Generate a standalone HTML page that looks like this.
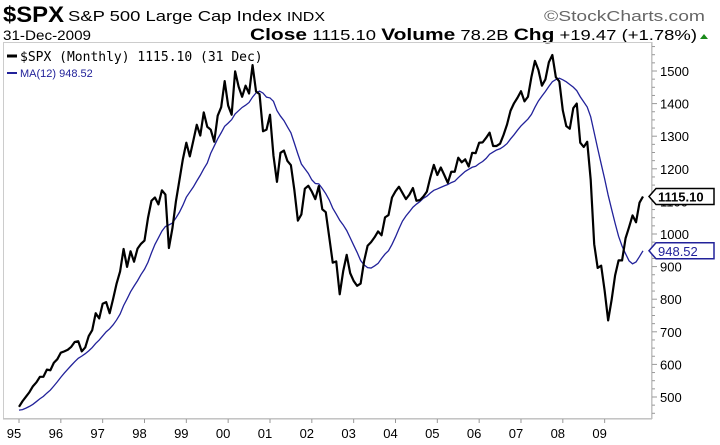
<!DOCTYPE html>
<html><head><meta charset="utf-8"><style>
body{margin:0;background:#fff;width:720px;height:445px;overflow:hidden;font-family:"Liberation Sans",sans-serif}
svg{position:absolute;left:0;top:0}
</style></head><body>
<svg id="c" width="720" height="445">
<text x="3" y="22" font-size="22" font-weight="bold" textLength="61" lengthAdjust="spacingAndGlyphs">$SPX</text>
<text x="68" y="21" font-size="15" textLength="257" lengthAdjust="spacingAndGlyphs">S&amp;P 500 Large Cap Index <tspan font-size="13">INDX</tspan></text>
<text x="544" y="21" font-size="15" fill="#666" textLength="161" lengthAdjust="spacingAndGlyphs">©StockCharts.com</text>
<text x="3" y="40" font-size="14" textLength="88" lengthAdjust="spacingAndGlyphs">31-Dec-2009</text>
<text x="250" y="40" font-size="15" textLength="447" lengthAdjust="spacingAndGlyphs"><tspan font-weight="bold" font-size="17">Close</tspan> 1115.10 <tspan font-weight="bold" font-size="17">Volume</tspan> 78.2B <tspan font-weight="bold" font-size="17">Chg</tspan> +19.47 (+1.78%)</text>
<polygon points="700,39 708,39 704,34" fill="#1a8a1a"/>
<rect x="3.5" y="42.5" width="648" height="376" fill="none" stroke="#ccc"/>
<line x1="3" y1="419" x2="652" y2="419" stroke="#bbb"/>
<line x1="652" y1="42" x2="652" y2="419" stroke="#bbb"/>
<g id="axes"></g>
<g id="series"></g>
<line x1="7" y1="56" x2="17" y2="56" stroke="#000" stroke-width="3"/>
<text x="20" y="61" font-size="13" font-family="DejaVu Sans Mono,monospace">$SPX (Monthly) 1115.10 (31 Dec)</text>
<line x1="7" y1="73" x2="17" y2="73" stroke="#22229a" stroke-width="2"/>
<text x="20" y="77" font-size="11" fill="#22229a">MA(12) 948.52</text>
</svg>
<script>
const years=['95','96','97','98','99','00','01','02','03','04','05','06','07','08','09'];
const yTicks=[500,600,700,800,900,1000,1100,1200,1300,1400,1500];
const prior1994=[481,467,446,451,457,444,458,475,463,472,454,459];
const closes=[
470,487,501,515,533,545,562,562,584,582,605,616,
636,640,645,654,669,671,640,652,687,705,757,741,
786,791,757,801,848,885,954,899,947,915,955,970,
980,1049,1102,1112,1091,1134,1121,957,1017,1099,1164,1229,
1280,1238,1286,1335,1302,1373,1329,1320,1283,1363,1389,1469,
1394,1366,1499,1452,1421,1455,1431,1518,1437,1429,1315,1320,
1366,1240,1160,1249,1256,1224,1211,1134,1041,1060,1139,1148,
1130,1107,1147,1076,1067,990,912,916,815,886,936,880,
856,841,848,917,964,975,990,1008,996,1051,1058,1112,
1131,1145,1126,1107,1121,1141,1102,1104,1115,1130,1174,1212,
1181,1204,1181,1157,1191,1191,1234,1220,1229,1207,1249,1248,
1280,1281,1295,1311,1270,1270,1277,1304,1336,1378,1401,1418,
1438,1407,1421,1482,1531,1503,1455,1474,1527,1549,1481,1468,
1379,1331,1323,1386,1400,1280,1267,1283,1166,969,896,903,
826,735,798,873,919,919,987,1021,1057,1036,1096,1115.10];
const NS='http://www.w3.org/2000/svg';
const X=m=>19+m*3.486;
const Y=v=>234-(v-1000)*0.326;
function mk(t,a,p){const e=document.createElementNS(NS,t);for(const k in a)e.setAttribute(k,a[k]);p.appendChild(e);return e;}
const ax=document.getElementById('axes'),sr=document.getElementById('series');
years.forEach((y,i)=>{
 const x=X(i*12);
 const t=mk('line',{x1:x,y1:419,x2:x,y2:423,stroke:'#999'},ax);
 
 
 const l=mk('text',{x:x-5,y:438,'font-size':13,'text-anchor':'middle'},ax);l.textContent=y;
 
 
});
for(let v=450;v<=1600;v+=25){
 const y=Y(v);if(y<43||y>418)continue;
 const t=mk('line',{x1:652,y1:y,x2:v%100===0?657:655,y2:y,stroke:'#999'},ax);
 
 
}
yTicks.forEach(v=>{
 const l=mk('text',{x:660,y:Y(v)+5,'font-size':13},ax);l.textContent=v;
 
 
});
const all=prior1994.concat(closes);
const ma=closes.map((c,i)=>{let s=0;for(let k=i+1;k<=i+12;k++)s+=all[k];return s/12;});
const maLine=mk('polyline',{points:ma.map((v,i)=>X(i)+','+Y(v)).join(' '),fill:'none',stroke:'#22229a','stroke-width':1.3},sr);


const pLine=mk('polyline',{points:closes.map((v,i)=>X(i)+','+Y(v)).join(' '),fill:'none',stroke:'#000','stroke-width':2.2,'stroke-linejoin':'round'},sr);


function tag(v,txt,col,bold,name){
 const y=Y(v);
 const g=mk('g',{},sr);
 
 
 mk('polygon',{points:`649,${y} 656,${y-8} 714,${y-8} 714,${y+8} 656,${y+8}`,fill:'#fff',stroke:col,'stroke-width':1.5},g);
 const t=mk('text',{x:658,y:y+5,'font-size':13,fill:col,'font-weight':bold?'bold':'normal'},g);t.textContent=txt;
}
tag(closes[closes.length-1],closes[closes.length-1].toFixed(2),'#000',true,'price-tag');
tag(ma[ma.length-1],'948.52','#22229a',false,'ma-tag');
</script>
</body></html>
